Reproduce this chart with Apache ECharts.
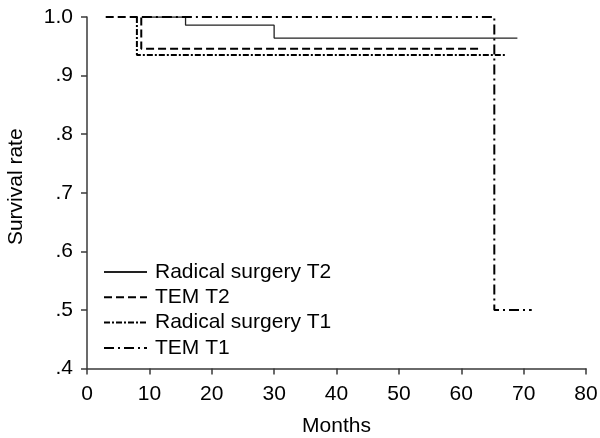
<!DOCTYPE html>
<html>
<head>
<meta charset="utf-8">
<script src="https://cdn.jsdelivr.net/npm/echarts@6/dist/echarts.min.js"></script>
<style>html,body{margin:0;padding:0;background:#fff}#c{width:600px;height:438px}</style>
</head>
<body>
<div id="c"></div>
<script>
// Data (months, survival rate)
var seriesNames = ['Radical surgery T2', 'TEM T2', 'Radical surgery T1', 'TEM T1'];
var rsT2Times = [8.8, 15.8, 30, 69];
var rsT2Surv  = [1.0, 0.986, 0.964, 0.964];
var temT2Times = [3, 8.7, 63];
var temT2Surv  = [1.0, 0.946, 0.946];
var rsT1Times = [8, 8, 67];
var rsT1Surv  = [1.0, 0.935, 0.935];
var temT1Times = [8.8, 65.3, 71.3];
var temT1Surv  = [1.0, 0.5, 0.5];
var xTicks = [0, 10, 20, 30, 40, 50, 60, 70, 80];
var yTicks = [0.4, 0.5, 0.6, 0.7, 0.8, 0.9, 1.0];

function pairs(t, s) { return t.map(function (v, i) { return [v, s[i]]; }); }

var FONT = 'Liberation Sans, Arial, sans-serif';
var FS = 21;
var chart = echarts.init(document.getElementById('c'));
var axisCol = '#3a3a3a';
var styles = [
  { type: 'solid', width: 1.3, color: '#222' },
  { type: [8, 4], width: 2, color: '#000' },
  { type: [6, 2, 2, 2], width: 2, color: '#000' },
  { type: [10, 4, 2, 4], width: 2, color: '#000' }
];
var dataSets = [pairs(rsT2Times, rsT2Surv), pairs(temT2Times, temT2Surv), pairs(rsT1Times, rsT1Surv), pairs(temT1Times, temT1Surv)];

chart.setOption({
  animation: false,
  textStyle: { fontFamily: FONT },
  grid: { left: 87, right: 14, top: 17, bottom: 69.5, containLabel: false, outerBoundsMode: 'none' },
  legend: {
    orient: 'vertical', left: 98, top: 256.5,
    itemWidth: 43, itemHeight: 14, itemGap: 4.3,
    itemStyle: { color: 'transparent', borderColor: 'transparent', borderWidth: 0 },
    textStyle: { fontFamily: FONT, fontSize: FS, color: '#000', lineHeight: 20, padding: [0, 0, 0, 3] },
    data: seriesNames
  },
  xAxis: {
    type: 'value', min: xTicks[0], max: xTicks[xTicks.length - 1], interval: 10,
    name: 'Months', nameLocation: 'middle', nameGap: 47,
    nameTextStyle: { fontFamily: FONT, fontSize: FS, color: '#000' },
    axisLine: { show: true, lineStyle: { color: axisCol, width: 1.5 } },
    axisTick: { show: true, length: 6, lineStyle: { color: axisCol, width: 1.5 } },
    axisLabel: { fontFamily: FONT, fontSize: FS, color: '#000', margin: 15 },
    splitLine: { show: false }
  },
  yAxis: {
    type: 'value', min: yTicks[0], max: yTicks[yTicks.length - 1], interval: 0.1,
    name: 'Survival rate', nameLocation: 'middle', nameGap: 60, nameRotate: 90,
    nameTextStyle: { fontFamily: FONT, fontSize: FS, color: '#000', padding: [0, 0, 0, 12] },
    axisLine: { show: true, lineStyle: { color: axisCol, width: 1.5 } },
    axisTick: { show: true, length: 6, lineStyle: { color: axisCol, width: 1.5 } },
    axisLabel: {
      fontFamily: FONT, fontSize: FS, color: '#000', margin: 14,
      formatter: function (v) { var s = v.toFixed(1); return s.charAt(0) === '0' ? s.slice(1) : s; }
    },
    splitLine: { show: false }
  },
  series: seriesNames.map(function (n, i) {
    return {
      name: n, type: 'line', step: 'end', symbol: 'none',
      data: dataSets[i], lineStyle: styles[i], itemStyle: { color: styles[i].color }
    };
  })
});
</script>
</body>
</html>
